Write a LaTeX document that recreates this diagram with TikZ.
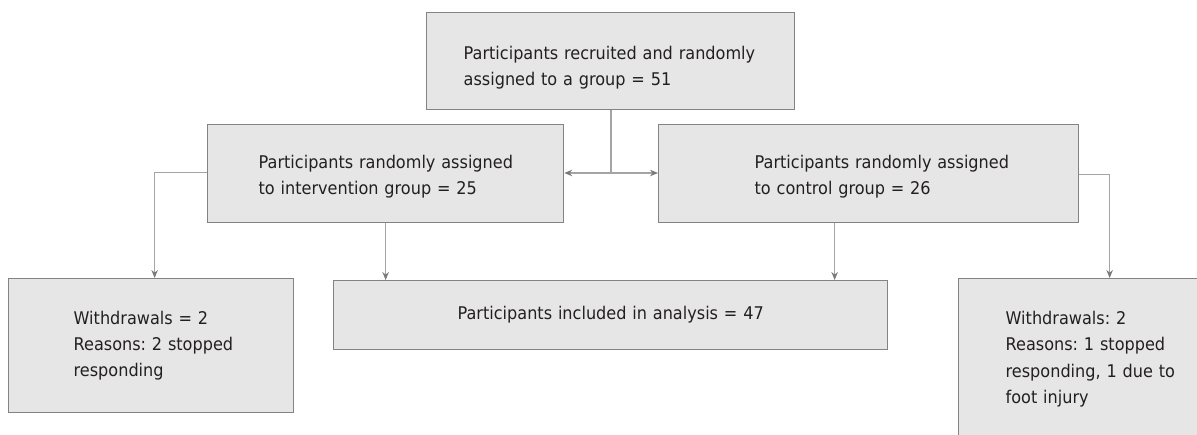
\documentclass[tikz,border=0pt]{standalone}
\usepackage{fontspec}
\setmainfont{DejaVu Sans}[FakeStretch=0.92]
\usetikzlibrary{arrows.meta,calc}
\definecolor{boxfill}{HTML}{E6E6E6}
\definecolor{boxline}{HTML}{858282}
\definecolor{conline}{HTML}{A4A4A4}
\definecolor{tipcol}{HTML}{7A7A7A}
\definecolor{txt}{HTML}{231F20}
\frenchspacing
\begin{document}
\begin{tikzpicture}[x=1pt,y=-1pt,
  box/.style={draw=boxline,fill=boxfill,line width=1.3pt,text=txt,
    font=\fontsize{17.5pt}{26.3pt}\selectfont\frenchspacing,align=left,inner ysep=0pt,anchor=north west},
  con/.style={draw=conline,line width=1.2pt,
    -{Stealth[length=8pt,width=6.5pt,color=tipcol]}},
  conplain/.style={draw=conline,line width=1.2pt}]
\useasboundingbox (0,0) rectangle (1197,434);
\clip (0,0) rectangle (1197,434);
\fill[white] (0,0) rectangle (1197,434);
% boxes
\node[box,minimum width=368pt,minimum height=97pt,inner xsep=37pt,text width=294pt] (top) at (426,12)
  {\rule{0pt}{27pt}\mbox{Participants recruited and randomly}\\\mbox{assigned to a group = 51}};
\node[box,minimum width=356pt,minimum height=98pt,inner xsep=51pt,text width=254pt] (interv) at (207,124)
  {\rule{0pt}{19.5pt}\mbox{Participants randomly assigned}\\\mbox{to intervention group = 25}};
\node[box,minimum width=420pt,minimum height=98pt,inner xsep=96pt,text width=228pt] (control) at (658,124)
  {\rule{0pt}{19.5pt}\mbox{Participants randomly assigned}\\\mbox{to control group = 26}};
\node[box,minimum width=285pt,minimum height=134pt,inner xsep=65pt,text width=155pt] (lft) at (8,278)
  {\mbox{Withdrawals = 2}\\\mbox{Reasons: 2 stopped}\\\mbox{responding}};
\node[box,minimum width=554pt,minimum height=69pt,inner xsep=20pt,text width=514pt,align=center] (mid) at (333,280)
  {Participants included in analysis = 47};
\node[box,minimum width=302pt,minimum height=161pt,inner xsep=47pt,text width=208pt] (rgt) at (958,278)
  {\mbox{Withdrawals: 2}\\\mbox{Reasons: 1 stopped}\\\mbox{responding, 1 due to}\\\mbox{foot injury}};
% connectors
\coordinate (split) at (611,173);
\draw[conplain] (top.south -| split) -- (split);
\draw[con] (split) -- (split -| interv.east);
\draw[con] (split) -- (split -| control.west);
\draw[con] ([yshift=1pt]interv.west) -| ([xshift=3.5pt]lft.north);
\draw[con] (interv.south) -- (interv.south |- mid.north);
\draw[con] ([xshift=-34pt]control.south) -- ([xshift=-34pt]control.south |- mid.north);
\draw[con] ([yshift=-1pt]control.east) -| (rgt.north);
\end{tikzpicture}
\end{document}
